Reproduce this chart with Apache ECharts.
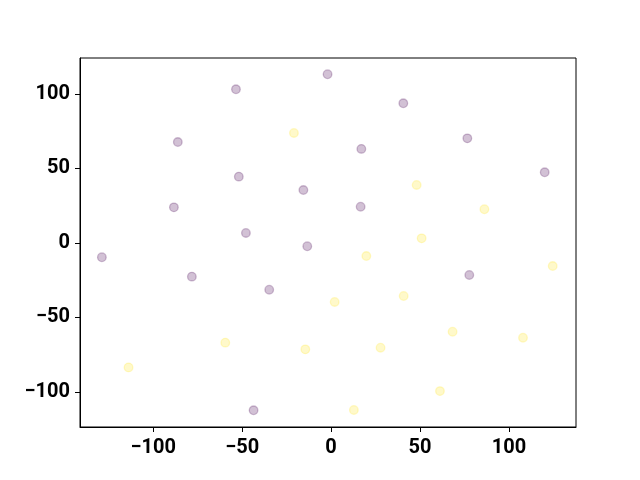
<!DOCTYPE html>
<html>
<head>
<meta charset="utf-8">
<script src="https://cdn.jsdelivr.net/npm/echarts@6/dist/echarts.min.js"></script>
<style>html,body{margin:0;padding:0;background:#fff}#c{width:640px;height:480px}</style>
</head>
<body>
<div id="c"></div>
<script>
const purpleX = [-128.9, -86.2, -88.4, -78.3, -53.5, -2.0, 40.6, 17.0, -51.9, -15.6, 16.6, -47.9, -13.4, -34.8, -43.6, 76.6, 120.1, 77.7];
const purpleY = [-9.7, 67.6, 23.8, -22.7, 103.0, 113.1, 93.6, 63.0, 44.4, 35.4, 24.2, 6.6, -2.3, -31.5, -112.4, 70.1, 47.3, -21.6];
const yellowX = [-113.9, -20.9, 19.8, 2.0, 40.8, -59.5, -14.5, 27.8, 12.8, 48.1, 86.2, 50.9, 124.6, 68.3, 107.9, 61.2];
const yellowY = [-83.6, 73.7, -8.9, -39.7, -35.7, -67.0, -71.5, -70.4, -112.2, 38.8, 22.5, 3.0, -15.6, -59.7, -63.7, -99.5];
const xTicks = [-100, -50, 0, 50, 100];
const yTicks = [-100, -50, 0, 50, 100];
const xRange = [-141.2, 137.7];
const yRange = [-123.6, 124.0];

const zip = (a, b) => a.map((v, i) => [v, b[i]]);
const fmt = v => String(v).replace('-', '\u2212');
const labelStyle = {color: '#000', fontFamily: 'Roboto', fontWeight: 'bold', fontSize: 20};

const chart = echarts.init(document.getElementById('c'), null, {renderer: 'canvas'});
chart.setOption({
  animation: false,
  backgroundColor: '#fff',
  grid: {left: 80, right: 64, top: 58, bottom: 53, show: true, borderColor: '#000', borderWidth: 1, backgroundColor: 'transparent'},
  xAxis: {
    type: 'value', min: xRange[0], max: xRange[1],
    splitLine: {show: false},
    axisLine: {show: true, onZero: false, lineStyle: {color: '#000', width: 1}},
    axisTick: {show: true, inside: false, length: 5, lineStyle: {color: '#000', width: 1}, customValues: xTicks},
    axisLabel: Object.assign({margin: 11, formatter: fmt, customValues: xTicks}, labelStyle)
  },
  yAxis: {
    type: 'value', min: yRange[0], max: yRange[1],
    splitLine: {show: false},
    axisLine: {show: true, onZero: false, lineStyle: {color: '#000', width: 1}},
    axisTick: {show: true, inside: false, length: 5, lineStyle: {color: '#000', width: 1}, customValues: yTicks},
    axisLabel: Object.assign({margin: 10, padding: [3, 0, 0, 0], formatter: fmt, customValues: yTicks}, labelStyle)
  },
  series: [
    {type: 'scatter', data: zip(purpleX, purpleY), symbolSize: 8.6,
     itemStyle: {color: 'rgba(68,1,84,0.3)', borderColor: 'rgba(68,1,84,0.3)', borderWidth: 1.3}},
    {type: 'scatter', data: zip(yellowX, yellowY), symbolSize: 8.6,
     itemStyle: {color: 'rgba(253,231,37,0.3)', borderColor: 'rgba(253,231,37,0.3)', borderWidth: 1.3}}
  ]
});
</script>
</body>
</html>
